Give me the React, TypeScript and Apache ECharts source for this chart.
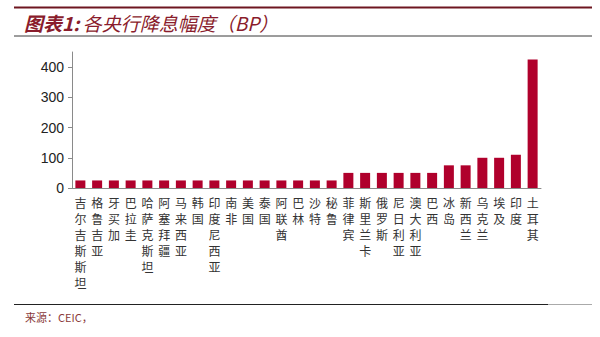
import React, { useEffect, useRef } from "react";
import * as echarts from "echarts";

const categories = [
  "吉尔吉斯斯坦", "格鲁吉亚", "牙买加", "巴拉圭", "哈萨克斯坦", "阿塞拜疆", "马来西亚",
  "韩国", "印度尼西亚", "南非", "美国", "泰国", "阿联酋", "巴林", "沙特", "秘鲁",
  "菲律宾", "斯里兰卡", "俄罗斯", "尼日利亚", "澳大利亚", "巴西", "冰岛", "新西兰",
  "乌克兰", "埃及", "印度", "土耳其",
];
const cutsBP = [
  25, 25, 25, 25, 25, 25, 25, 25, 25, 25, 25, 25, 25, 25, 25, 25,
  50, 50, 50, 50, 50, 50, 75, 75, 100, 100, 110, 425,
];
const titleText = "各央行降息幅度（BP）";
const titlePrefix = "图表1:";
const sourceText = "来源：CEIC，";

export default function App() {
  const ref = useRef<HTMLDivElement>(null);
  useEffect(() => {
    if (!ref.current) return;
    const chart = echarts.init(ref.current, null, { renderer: "svg" });
    chart.setOption({
      animation: false,
      backgroundColor: "#ffffff",
      grid: { left: 72, right: 59, top: 52, bottom: 149, containLabel: false },
      xAxis: {
        type: "category",
        data: categories,
        axisLine: { lineStyle: { color: "#8a8a8a", width: 1 } },
        axisTick: { alignWithLabel: false, length: 4, lineStyle: { color: "#8a8a8a" } },
        axisLabel: {
          interval: 0,
          margin: 6,
          fontSize: 12,
          lineHeight: 16,
          color: "#333",
          fontFamily: "Noto Sans CJK SC",
          formatter: (v: string) => v.split("").join("\n"),
          verticalAlign: "top",
        },
      },
      yAxis: {
        type: "value",
        min: 0,
        max: 450,
        interval: 100,
        splitLine: { show: false },
        axisLine: { show: true, lineStyle: { color: "#8a8a8a", width: 1 } },
        axisTick: { show: true, length: 4, lineStyle: { color: "#8a8a8a" } },
        axisLabel: {
          showMaxLabel: false,
          fontSize: 14,
          color: "#222",
          margin: 8,
          fontFamily: "Liberation Sans, Arial, sans-serif",
        },
      },
      series: [
        {
          type: "bar",
          data: cutsBP,
          barWidth: 10,
          itemStyle: { color: "#b0002c" },
        },
      ],
      graphic: [
        {
          type: "line",
          shape: { x1: 14, y1: 7.5, x2: 592, y2: 7.5 },
          style: { stroke: "#6e1620", lineWidth: 2 },
        },
        {
          type: "line",
          shape: { x1: 14, y1: 36, x2: 592, y2: 36 },
          style: { stroke: "#3a3a3a", lineWidth: 1 },
        },
        {
          type: "text",
          x: 24,
          y: 22,
          style: {
            text: "{a|" + titlePrefix + "} {b|" + titleText + "}",
            verticalAlign: "middle",
            rich: {
              a: {
                fontSize: 19,
                fontWeight: "bold",
                fontStyle: "italic",
                fill: "#8a1c2c",
                fontFamily: "Noto Sans CJK SC",
              },
              b: {
                fontSize: 19,
                fontStyle: "italic",
                fill: "#8a1c2c",
                fontFamily: "Noto Sans CJK SC",
              },
            },
          },
        },
        {
          type: "line",
          shape: { x1: 14, y1: 304.5, x2: 548, y2: 304.5 },
          style: { stroke: "#222", lineWidth: 1 },
        },
        {
          type: "line",
          shape: { x1: 548, y1: 304.5, x2: 592, y2: 304.5 },
          style: { stroke: "#aaa", lineWidth: 1 },
        },
        {
          type: "text",
          x: 25,
          y: 317,
          style: {
            text: sourceText,
            fontSize: 11,
            fill: "#8a3a3a",
            verticalAlign: "middle",
            fontFamily: "Noto Sans CJK SC",
          },
        },
      ],
    });
    return () => chart.dispose();
  }, []);
  return (
    <div
      ref={ref}
      style={{ position: "fixed", left: 0, top: 0, width: 600, height: 337, background: "#fff" }}
    />
  );
}
